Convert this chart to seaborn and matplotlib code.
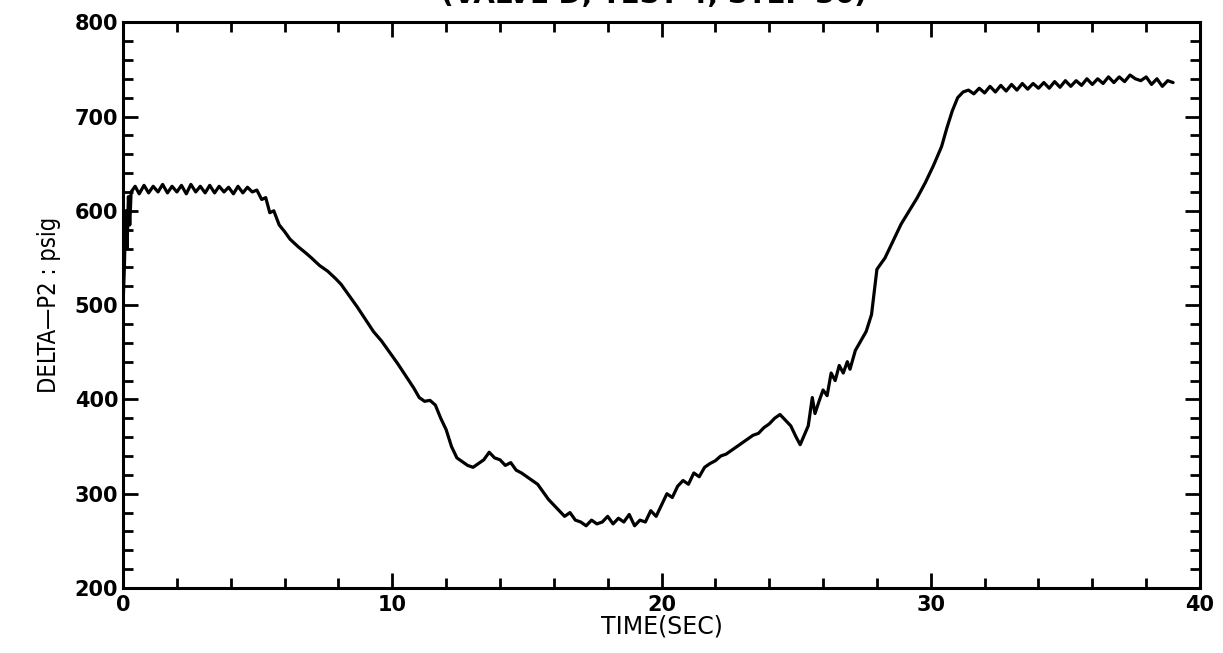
import numpy as np
import pandas as pd
import matplotlib
matplotlib.use("Agg")
import matplotlib.pyplot as plt
from matplotlib.ticker import MultipleLocator
import seaborn as sns

# -------------------------------------------------------------------
# Data (time in s, delta-P2 in psig)
# -------------------------------------------------------------------
t_start = [0.0, 0.05, 0.1, 0.15, 0.2, 0.25, 0.3]
p_start = [500, 540, 600, 560, 615, 585, 620]

t_plat1 = [0.45, 0.6, 0.78, 0.95, 1.12, 1.3, 1.47, 1.65, 1.82, 2.0, 2.17,
           2.35, 2.52, 2.7, 2.87, 3.05, 3.22, 3.4, 3.57, 3.75, 3.92, 4.1,
           4.27, 4.45, 4.62, 4.8, 4.97]
p_plat1 = [626, 618, 627, 619, 626, 620, 628, 619, 626, 620, 627,
           618, 628, 620, 626, 619, 627, 619, 626, 620, 625, 618,
           626, 619, 625, 620, 622]

t_fall = [5.15, 5.3, 5.45, 5.6, 5.8, 6.0, 6.2, 6.5, 6.8, 7.0, 7.3, 7.6,
          7.9, 8.1, 8.4, 8.7, 9.0, 9.3, 9.6, 9.9, 10.2, 10.5, 10.8, 11.0,
          11.2, 11.4, 11.6, 11.8, 12.0, 12.2, 12.4, 12.6, 12.8, 13.0, 13.2,
          13.4, 13.6, 13.8, 14.0, 14.2, 14.4, 14.6, 14.8, 15.0, 15.2, 15.4,
          15.6, 15.8, 16.0, 16.2, 16.4, 16.6, 16.8, 17.0, 17.2, 17.4, 17.6,
          17.8, 18.0, 18.2, 18.4, 18.6, 18.8, 19.0, 19.2, 19.4, 19.6, 19.8]
p_fall = [612, 614, 598, 600, 585, 578, 570, 562, 555, 550, 542, 536,
          528, 522, 510, 498, 485, 472, 462, 450, 438, 425, 412, 402,
          398, 399, 394, 380, 368, 350, 338, 334, 330, 328, 332,
          336, 344, 338, 336, 330, 333, 325, 322, 318, 314, 310,
          302, 294, 288, 282, 276, 280, 272, 270, 266, 272, 268,
          270, 276, 268, 274, 270, 278, 266, 272, 270, 282, 276]

t_rise = [20.0, 20.2, 20.4, 20.6, 20.8, 21.0, 21.2, 21.4, 21.6, 21.8, 22.0,
          22.2, 22.4, 22.6, 22.8, 23.0, 23.2, 23.4, 23.6, 23.8, 24.0, 24.2,
          24.4, 24.6, 24.8, 25.0, 25.15, 25.3, 25.45, 25.6, 25.7, 25.85,
          26.0, 26.15, 26.3, 26.45, 26.6, 26.75, 26.9, 27.0, 27.2, 27.4,
          27.6, 27.8, 28.0, 28.3, 28.6, 28.9, 29.2, 29.5, 29.8, 30.1, 30.4,
          30.6, 30.8, 31.0, 31.2]
p_rise = [288, 300, 296, 308, 314, 310, 322, 318, 328, 332, 335,
          340, 342, 346, 350, 354, 358, 362, 364, 370, 374, 380,
          384, 378, 372, 360, 352, 362, 372, 402, 385, 398,
          410, 404, 428, 420, 436, 428, 440, 432, 452, 462,
          472, 490, 538, 550, 568, 586, 600, 614, 630, 648, 668,
          688, 706, 720, 726]

t_plat2 = [31.4, 31.6, 31.8, 32.0, 32.2, 32.4, 32.6, 32.8, 33.0, 33.2, 33.4,
           33.6, 33.8, 34.0, 34.2, 34.4, 34.6, 34.8, 35.0, 35.2, 35.4, 35.6,
           35.8, 36.0, 36.2, 36.4, 36.6, 36.8, 37.0, 37.2, 37.4, 37.6, 37.8,
           38.0, 38.2, 38.4, 38.6, 38.8, 39.0]
p_plat2 = [728, 724, 730, 725, 732, 726, 733, 727, 734, 728, 735,
           729, 735, 730, 736, 730, 737, 731, 738, 732, 738, 733,
           740, 734, 740, 735, 742, 736, 742, 737, 744, 740, 738,
           742, 734, 740, 732, 738, 736]

df = pd.DataFrame({
    "time": t_start + t_plat1 + t_fall + t_rise + t_plat2,
    "dp2": p_start + p_plat1 + p_fall + p_rise + p_plat2,
})

# -------------------------------------------------------------------
# Plot
# -------------------------------------------------------------------
sns.set_style("ticks")
plt.rcParams["font.family"] = ["DejaVu Sans"]
plt.rcParams["text.color"] = "black"
plt.rcParams["axes.labelcolor"] = "black"
plt.rcParams["xtick.color"] = "black"
plt.rcParams["ytick.color"] = "black"

fig = plt.figure(figsize=(12.23, 6.53), dpi=100)
ax = fig.add_axes([0.1006, 0.0995, 0.8806, 0.8665])

sns.lineplot(data=df, x="time", y="dp2", sort=False, color="black",
             linewidth=2.3, ax=ax)

ax.set_xlim(0, 40)
ax.set_ylim(200, 800)
ax.xaxis.set_major_locator(MultipleLocator(10))
ax.xaxis.set_minor_locator(MultipleLocator(2))
ax.yaxis.set_major_locator(MultipleLocator(100))
ax.yaxis.set_minor_locator(MultipleLocator(20))
ax.tick_params(which="both", direction="in", top=True, right=True,
               width=2, colors="black", labelsize=15)
ax.tick_params(which="major", length=11)
ax.tick_params(which="minor", length=7)
for lab in ax.get_xticklabels() + ax.get_yticklabels():
    lab.set_fontweight("bold")
ax.tick_params(axis="x", pad=5)
for s in ax.spines.values():
    s.set_linewidth(2.2)
    s.set_color("black")

ax.set_xlabel("TIME(SEC)", fontsize=17, labelpad=0)
ax.set_ylabel("DELTA\u2014P2 : psig", fontsize=17, fontstretch="condensed",
              labelpad=10)

# title is cut off at the top edge of the original scan
fig.text(0.535, 1.008, "(VALVE D, TEST 4, STEP 36)", ha="center", va="center",
         fontsize=20, fontweight="bold")

fig.savefig("out.png", dpi=100, facecolor="white")
